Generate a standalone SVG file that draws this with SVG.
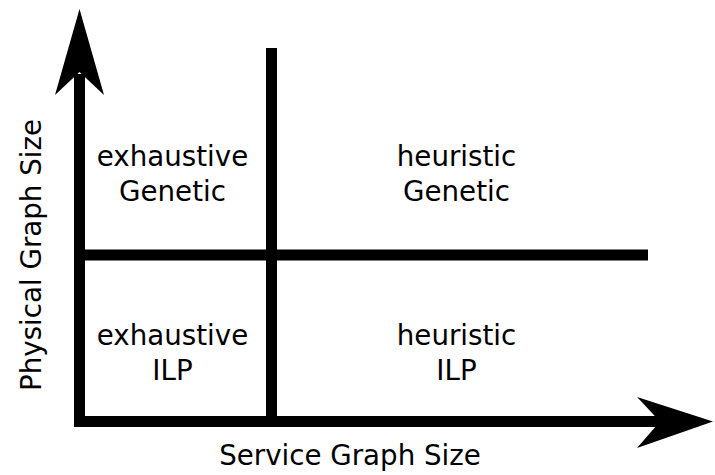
<svg xmlns="http://www.w3.org/2000/svg" width="715" height="475" viewBox="0 0 715 475">
<style>
.t{font-family:"DejaVu Sans",sans-serif;font-size:27.7px;fill:#000;text-anchor:middle}
.ln{fill:#000}
</style>
<rect width="715" height="475" fill="#fff"/>
<g id="connectors">
<rect class="ln" x="74" y="74" width="11" height="353"/>
<polygon class="ln" points="79.5,9 104,95 79.5,72 55,95"/>
<rect class="ln" x="74" y="416" width="588" height="11"/>
<polygon class="ln" points="713,421.5 637,397 660,421.5 637,448"/>
<rect class="ln" x="266" y="48" width="11" height="368"/>
<rect class="ln" x="85" y="249.5" width="563" height="11"/>
</g>
<g id="axis-x"><text class="t" x="350" y="465">Service Graph Size</text></g>
<g id="axis-y"><text class="t" transform="translate(41,255) rotate(-90)">Physical Graph Size</text></g>
<g id="exhaustive-genetic"><text class="t" x="172.5" y="166">exhaustive</text><text class="t" x="172.5" y="201">Genetic</text></g>
<g id="heuristic-genetic"><text class="t" x="456.5" y="166">heuristic</text><text class="t" x="456.5" y="201">Genetic</text></g>
<g id="exhaustive-ilp"><text class="t" x="172.5" y="345">exhaustive</text><text class="t" x="172.5" y="380">ILP</text></g>
<g id="heuristic-ilp"><text class="t" x="456.5" y="345">heuristic</text><text class="t" x="456.5" y="380">ILP</text></g>
</svg>
